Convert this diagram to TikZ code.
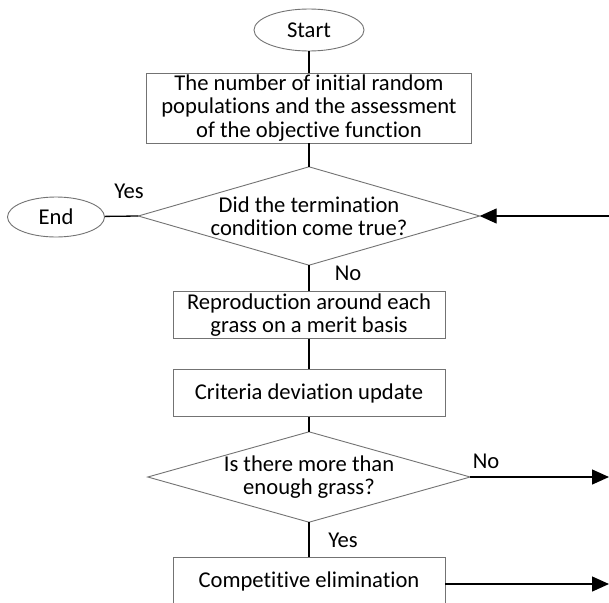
\documentclass[tikz,border=0pt]{standalone}
\usepackage{fontspec}
\setmainfont{Carlito}[Ligatures=NoCommon]
\usetikzlibrary{shapes.geometric,arrows.meta}
\begin{document}
\begin{tikzpicture}[x=1pt,y=-1pt,
  txt/.style={font=\fontsize{22.6}{23.5}\selectfont},
  box/.style={txt, draw=black!55, line width=0.9pt, minimum width=272pt, minimum height=47pt, align=center, inner sep=0pt},
  term/.style={txt, ellipse, draw=black!55, line width=0.9pt, inner sep=0pt},
  dec/.style={txt, rectangle, draw=none, align=center, inner sep=0pt},
  dia/.style={draw=black!55, line width=0.9pt},
  conn/.style={draw=black, line width=1.3pt},
  arr/.style={conn, -{Triangle[length=17pt,width=15pt]}},
  lab/.style={txt}
]
\clip (0,0) rectangle (609,602);
\fill[white] (0,0) rectangle (609,602);

\node[term, minimum width=110pt, minimum height=42pt] (start) at (309,30) {Start};
\node[box, minimum width=325pt, minimum height=70pt] (init) at (309,108)
  {The number of initial random\\populations and the assessment\\of the objective function};
\node[dec, minimum width=341pt, minimum height=98pt] (d1) at (309,216)
  {Did the termination\\condition come true?};
\draw[dia] (d1.north) -- (d1.east) -- (d1.south) -- (d1.west) -- cycle;
\node[term, minimum width=97pt, minimum height=40pt] (end) at (56,217) {End};
\node[box] (repro) at (309,315) {Reproduction around each\\grass on a merit basis};
\node[box] (crit) at (309,393) {Criteria deviation update};
\node[dec, minimum width=322pt, minimum height=90pt] (d2) at (309,477)
  {Is there more than\\enough grass?};
\draw[dia] (d2.north) -- (d2.east) -- (d2.south) -- (d2.west) -- cycle;
\node[box, minimum height=60pt, anchor=north] (comp) at (309,557) {};
\node[txt] (comptxt) at (309,581) {Competitive elimination};

\coordinate (inR) at (609,216);
\coordinate (outR2) at (609,477);
\coordinate (outR3) at (609,584);

\draw[conn] (start) -- (init);
\draw[conn] (init) -- (d1.north);
\draw[arr] (inR) -- (d1.east);
\draw[conn] (d1.west) -- (end);
\draw[conn] (d1.south) -- (repro);
\draw[conn] (repro) -- (crit);
\draw[conn] (crit) -- (d2.north);
\draw[arr] (d2.east) -- (outR2);
\draw[conn] (d2.south) -- (comp.north);
\draw[arr] (comp.east |- outR3) -- (outR3);

\node[lab] (yes1) at (129,191) {Yes};
\node[lab] (no1) at (348,273) {No};
\node[lab] (no2) at (486,461) {No};
\node[lab] (yes2) at (343,540) {Yes};
\end{tikzpicture}
\end{document}
